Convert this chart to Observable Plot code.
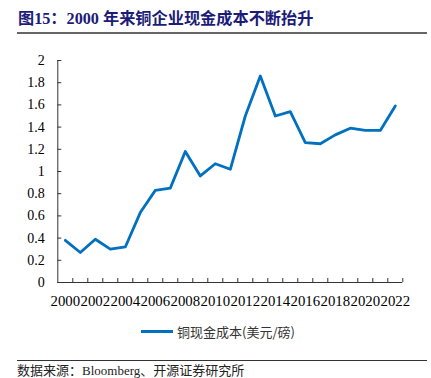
<!DOCTYPE html>
<html><head><meta charset="utf-8">
<script src="https://cdn.jsdelivr.net/npm/d3@7"></script>
<script src="https://cdn.jsdelivr.net/npm/@observablehq/plot@0.6"></script>
<style>
body{margin:0;background:#fff;}
#wrap{position:relative;width:431px;height:378px;overflow:hidden;background:#fff;}
#title{position:absolute;left:18px;top:9px;font-family:"Liberation Serif","Noto Sans CJK SC",serif;font-weight:bold;font-size:16.2px;color:#1c1c78;white-space:nowrap;line-height:20px;}
#tline{position:absolute;left:17px;top:32px;width:410px;height:0;border-top:2px solid #666;}
#chart{position:absolute;left:0;top:36px;}
#legend{position:absolute;left:141px;top:322px;height:18px;display:flex;align-items:center;font-family:"Noto Sans CJK SC",sans-serif;font-size:13px;color:#333;white-space:nowrap;}
#legend .sw{display:inline-block;width:32px;height:3px;background:#0070C0;margin-right:4px;}
#cline{position:absolute;left:17px;top:360px;width:410px;height:0;border-top:1px solid #333;}
#caption{position:absolute;left:17px;top:363px;font-family:"Liberation Serif","Noto Sans CJK SC",serif;font-size:13px;color:#222;white-space:nowrap;line-height:15px;}
</style></head><body>
<div id="wrap">
 <div id="title">图15：2000 年来铜企业现金成本不断抬升</div>
 <div id="tline"></div>
 <div id="chart"></div>
 <div id="legend"><span class="sw"></span><span id="legtext"></span></div>
 <div id="cline"></div>
 <div id="caption">数据来源：Bloomberg、开源证券研究所</div>
</div>
<script>
const seriesName = "铜现金成本(美元/磅)";
const years = [2000,2001,2002,2003,2004,2005,2006,2007,2008,2009,2010,2011,2012,2013,2014,2015,2016,2017,2018,2019,2020,2021,2022];
const cost = [0.38,0.27,0.39,0.30,0.32,0.63,0.83,0.85,1.18,0.96,1.07,1.02,1.50,1.86,1.50,1.54,1.26,1.25,1.33,1.39,1.37,1.37,1.59];
const yTicks = [0,0.2,0.4,0.6,0.8,1,1.2,1.4,1.6,1.8,2];
const xTickLabels = [2000,2002,2004,2006,2008,2010,2012,2014,2016,2018,2020,2022];

document.getElementById("legtext").textContent = seriesName;

const data = years.map((y, i) => ({year: y, value: cost[i]}));
const x0 = years[0] - 0.5, x1 = years[years.length - 1] + 0.5;
const bounds = years.map(y => y + 0.5);

const plot = Plot.plot({
  width: 431, height: 275,
  marginLeft: 57.3, marginRight: 28.7, marginTop: 24, marginBottom: 29,
  x: {domain: [x0, x1], axis: null},
  y: {domain: [0, 2], axis: null},
  style: {fontFamily: "'Liberation Serif','Times New Roman',serif", fontSize: "14px", color: "#000", background: "#fff"},
  marks: [
    Plot.axisY(yTicks, {tickSize: 0, tickPadding: 13, tickFormat: d => String(+d.toFixed(1)), fontSize: 14, fill: "#000", label: null}),
    Plot.axisX(xTickLabels, {tickSize: 0, tickPadding: 13, tickFormat: d => String(d), fontSize: 14.8, fill: "#000", label: null}),
    Plot.ruleY(yTicks, {x1: x0, x2: x0 + 4 / 15, stroke: "#333"}),
    Plot.ruleX(bounds, {y1: 0, y2: 4 / 111, stroke: "#333"}),
    Plot.ruleX([x0], {y1: 0, y2: 2, stroke: "#333"}),
    Plot.ruleY([0], {x1: x0, x2: x1, stroke: "#333"}),
    Plot.line(data, {x: "year", y: "value", stroke: "#0070C0", strokeWidth: 2.8})
  ]
});
document.getElementById("chart").appendChild(plot);
</script>
</body></html>
